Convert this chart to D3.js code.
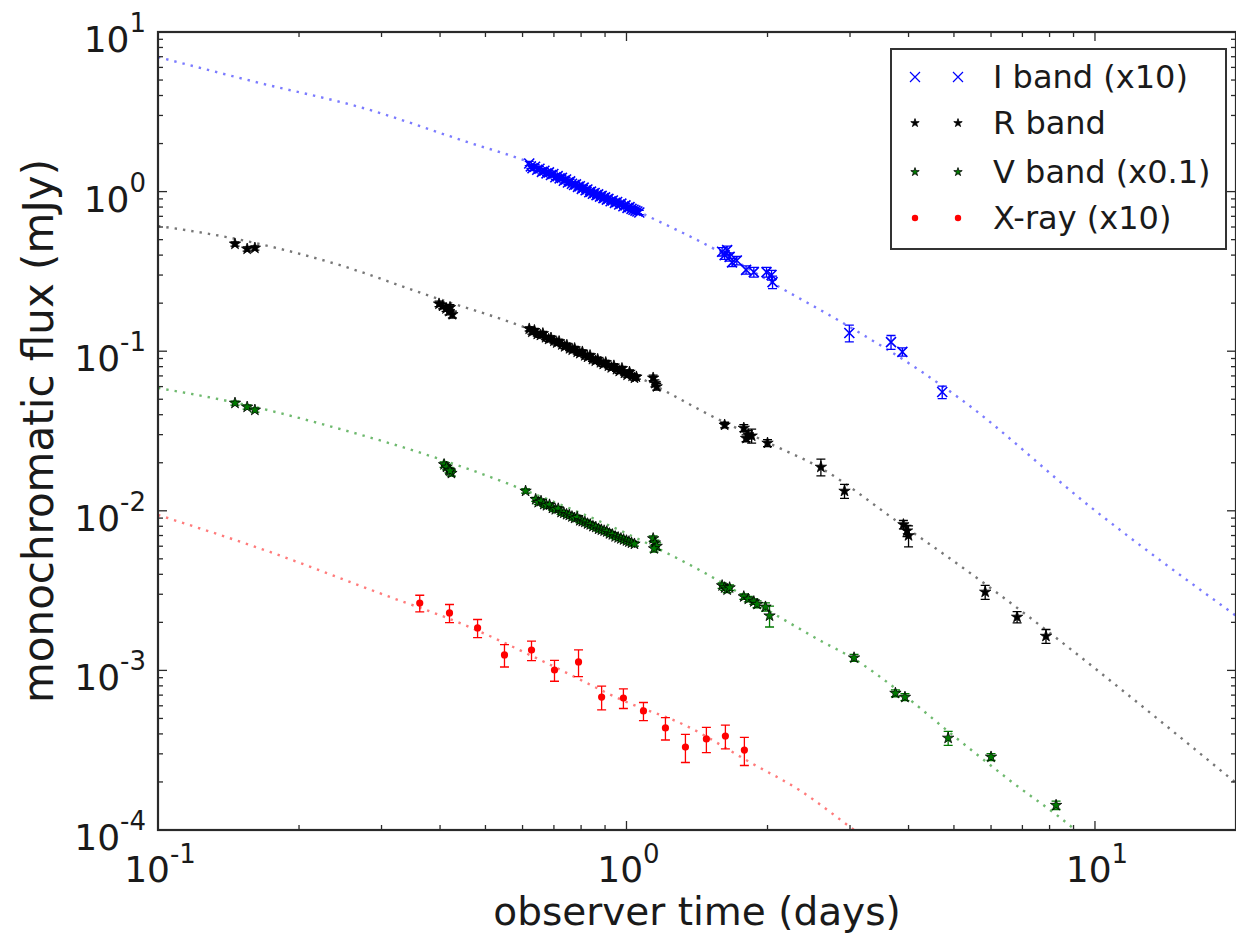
<!DOCTYPE html>
<html><head><meta charset="utf-8">
<script src="https://cdn.jsdelivr.net/npm/d3@7"></script>
<style>body{margin:0;background:#fff}svg{display:block}text{font-family:"DejaVu Sans",sans-serif;fill:#1a1a1a}</style>
</head><body><svg id="c" width="1236" height="939"></svg>
<script>
// ---- data: [time (days), flux (mJy), relative error] ----
const iBand = [
[0.620,1.50,0.03],[0.625,1.44,0.03],[0.630,1.40,0.03],[0.638,1.43,0.03],[0.645,1.37,0.03],[0.652,1.39,0.03],[0.660,1.33,0.03],[0.668,1.35,0.03],[0.675,1.30,0.03],[0.683,1.32,0.03],[0.690,1.27,0.03],[0.698,1.29,0.03],[0.705,1.23,0.03],[0.713,1.25,0.03],[0.720,1.21,0.03],[0.728,1.22,0.03],[0.735,1.17,0.03],[0.743,1.19,0.03],[0.750,1.14,0.03],[0.758,1.16,0.03],[0.765,1.12,0.03],[0.773,1.10,0.03],[0.780,1.11,0.03],[0.788,1.07,0.03],[0.795,1.08,0.03],[0.803,1.04,0.03],[0.810,1.06,0.03],[0.818,1.02,0.03],[0.825,1.03,0.03],[0.833,0.99,0.03],[0.840,1.00,0.03],[0.848,0.97,0.03],[0.855,0.98,0.03],[0.863,0.95,0.03],[0.870,0.96,0.03],[0.878,0.93,0.03],[0.885,0.94,0.03],[0.893,0.91,0.03],[0.900,0.92,0.03],[0.908,0.89,0.03],[0.915,0.90,0.03],[0.925,0.87,0.03],[0.935,0.88,0.03],[0.945,0.85,0.03],[0.955,0.86,0.03],[0.965,0.83,0.03],[0.975,0.84,0.03],[0.985,0.81,0.03],[0.995,0.82,0.03],[1.005,0.79,0.03],[1.015,0.80,0.03],[1.025,0.78,0.03],[1.035,0.77,0.03],[1.045,0.76,0.03],[1.055,0.75,0.03],[1.065,0.74,0.03],
[1.60,0.42,0.06],[1.62,0.40,0.06],[1.64,0.43,0.06],[1.66,0.39,0.06],[1.68,0.36,0.06],[1.72,0.37,0.06],[1.80,0.323,0.06],[1.87,0.313,0.07],[1.99,0.313,0.07],[2.04,0.30,0.07],[2.05,0.271,0.09],
[2.99,0.130,0.12],[3.67,0.114,0.10],[3.88,0.099,0.06],[4.72,0.0555,0.09]
];
const rBand = [
[0.146,0.470,0.03],[0.155,0.437,0.03],[0.161,0.443,0.03],
[0.398,0.198,0.04],[0.405,0.192,0.04],[0.412,0.185,0.04],[0.418,0.178,0.05],[0.425,0.170,0.05],[0.420,0.188,0.04],
[0.620,0.138,0.03],[0.628,0.132,0.03],[0.636,0.135,0.03],[0.645,0.128,0.03],[0.655,0.126,0.03],[0.663,0.129,0.03],[0.672,0.122,0.03],[0.682,0.119,0.03],[0.690,0.121,0.03],[0.700,0.116,0.03],[0.710,0.113,0.03],[0.718,0.115,0.03],[0.728,0.110,0.03],[0.738,0.107,0.03],[0.746,0.109,0.03],[0.756,0.104,0.03],[0.766,0.102,0.03],[0.775,0.104,0.03],[0.785,0.099,0.03],[0.795,0.097,0.03],[0.805,0.099,0.03],[0.815,0.094,0.03],[0.826,0.092,0.03],[0.836,0.094,0.03],[0.846,0.089,0.03],[0.858,0.087,0.03],[0.868,0.089,0.03],[0.880,0.085,0.03],[0.892,0.083,0.03],[0.903,0.085,0.03],[0.915,0.081,0.03],[0.928,0.079,0.03],[0.940,0.081,0.03],[0.952,0.077,0.03],[0.965,0.075,0.03],[0.978,0.078,0.03],[0.990,0.073,0.03],[1.003,0.071,0.03],[1.015,0.074,0.03],[1.028,0.070,0.03],[1.040,0.068,0.03],[1.050,0.069,0.03],
[1.14,0.068,0.04],[1.15,0.063,0.05],[1.16,0.060,0.05],
[1.62,0.0345,0.04],[1.78,0.033,0.05],[1.80,0.0285,0.05],[1.82,0.030,0.06],[1.85,0.0295,0.10],[2.00,0.0266,0.05],
[2.60,0.0188,0.12],[2.92,0.0133,0.10],[3.90,0.0082,0.06],[3.97,0.0075,0.08],[4.00,0.0070,0.15],[5.83,0.0031,0.10],[6.82,0.00216,0.08],[7.86,0.00164,0.10]
];
const vBand = [
[0.146,0.0473,0.03],[0.155,0.0447,0.03],[0.161,0.0428,0.03],
[0.408,0.0195,0.04],[0.413,0.0188,0.04],[0.418,0.0180,0.04],[0.423,0.0172,0.04],[0.420,0.0178,0.04],
[0.609,0.0133,0.03],
[0.640,0.0118,0.03],[0.648,0.0113,0.03],[0.657,0.0115,0.03],[0.666,0.0110,0.03],[0.675,0.0108,0.03],[0.685,0.0109,0.03],[0.695,0.0104,0.03],[0.705,0.0102,0.03],[0.715,0.0103,0.03],[0.725,0.0098,0.03],[0.735,0.0097,0.03],[0.745,0.0095,0.03],[0.755,0.0094,0.03],[0.765,0.0092,0.03],[0.775,0.0090,0.03],[0.785,0.0091,0.03],[0.795,0.0087,0.03],[0.805,0.0086,0.03],[0.815,0.0085,0.03],[0.826,0.0083,0.03],[0.837,0.0082,0.03],[0.848,0.0080,0.03],[0.860,0.0079,0.03],[0.872,0.0077,0.03],[0.884,0.0076,0.03],[0.896,0.0075,0.03],[0.908,0.0074,0.03],[0.920,0.0072,0.03],[0.933,0.0071,0.03],[0.946,0.0069,0.03],[0.960,0.0068,0.03],[0.973,0.0067,0.03],[0.986,0.0066,0.03],[1.000,0.0065,0.03],[1.012,0.0064,0.03],[1.025,0.0063,0.03],[1.040,0.0062,0.03],
[1.14,0.0067,0.04],[1.15,0.0063,0.04],[1.16,0.0060,0.05],[1.145,0.0058,0.05],
[1.60,0.0034,0.04],[1.62,0.0033,0.04],[1.64,0.0032,0.04],[1.66,0.0033,0.04],[1.78,0.0029,0.04],[1.82,0.0028,0.04],[1.87,0.0027,0.04],[1.90,0.0026,0.05],[1.98,0.0025,0.06],[2.02,0.0022,0.15],
[3.06,0.0012,0.05],[3.75,0.00072,0.05],[3.93,0.00068,0.05],[4.86,0.000377,0.10],[6.0,0.000287,0.05],[8.26,0.000143,0.06]
];
const xRay = [
[0.362,0.00264,0.12],[0.419,0.00229,0.13],[0.481,0.001845,0.13],[0.549,0.00125,0.16],[0.627,0.00134,0.14],[0.702,0.001006,0.15],[0.790,0.00113,0.19],[0.885,0.000681,0.17],[0.985,0.000671,0.14],[1.087,0.000557,0.13],[1.211,0.000436,0.16],[1.336,0.000331,0.20],[1.481,0.000372,0.18],[1.626,0.000388,0.17],[1.785,0.000317,0.20]
];
// ---- model curves: [time, flux] ----
const iModel = [[0.1,6.97],[0.165,4.79],[0.274,3.34],[0.456,2.05],[0.621,1.53],[1.076,0.734],[1.556,0.43],[2.12,0.2525],[2.846,0.155],[4.277,0.074],[5.13,0.0509],[9.85,0.0104],[20,0.0022]];
const rModel = [[0.1,0.609],[0.140,0.519],[0.236,0.357],[0.386,0.2186],[0.612,0.1397],[1.06,0.0689],[1.579,0.0371],[2.0,0.0268],[2.6,0.0185],[3.82,0.0084],[5.13,0.00457],[20,0.000197]];
const vModel = [[0.1,0.0588],[0.144,0.0481],[0.236,0.0335],[0.405,0.0208],[0.609,0.0134],[1.066,0.0066],[1.431,0.00426],[2.12,0.00216],[2.579,0.00155],[3.06,0.00118],[3.82,0.00074],[4.884,0.00041],[6.56,0.000206],[9.07,0.0001],[10.1,0.000075]];
const xModel = [[0.1,0.00942],[0.1734,0.00552],[0.297,0.00305],[0.4516,0.001925],[0.675,0.001113],[1.0,0.000634],[1.33,0.000455],[1.829,0.000267],[2.338,0.000178],[3.063,0.0001],[3.82,0.000063]];
// ---- ticks / labels ----
const xMajor = [0.1, 1, 10];
const yMajor = [1e-4, 1e-3, 1e-2, 1e-1, 1, 10];
const xLabel = "observer time (days)";
const yLabel = "monochromatic flux (mJy)";
const legendNames = ["I band (x10)", "R band", "V band (x0.1)", "X-ray (x10)"];

const svg = d3.select("#c");
const L = 158, R = 1236, T = 32, B = 830;
const x = d3.scaleLog().domain([0.1, 20]).range([L, R]);
const y = d3.scaleLog().domain([1e-4, 10]).range([B, T]);

svg.append("defs").append("clipPath").attr("id","clip").append("rect")
  .attr("x",L).attr("y",T).attr("width",R-L).attr("height",B-T);

const plot = svg.append("g").attr("clip-path","url(#clip)");
const line = d3.line().x(d=>x(d[0])).y(d=>y(d[1])).curve(d3.curveMonotoneX);

const series = [
  {data:iBand, model:iModel, color:"#0000ff", line:"#5a5aff", marker:"x"},
  {data:rBand, model:rModel, color:"#000000", line:"#555555", marker:"starK"},
  {data:vBand, model:vModel, color:"#007a00", line:"#4aa84a", marker:"starG"},
  {data:xRay,  model:xModel, color:"#ff0000", line:"#ff5a5a", marker:"dot"}
];

series.forEach(s=>{
  plot.append("path").attr("d", line(s.model)).attr("fill","none")
    .attr("stroke", s.line).attr("stroke-width",2.4).attr("stroke-opacity",0.8)
    .attr("stroke-dasharray","2.4 6");
});

const star = d3.symbol().type(d3.symbolStar);
function drawMarker(g, type, cx, cy, color, sz, sw){
  if(type==="x"){
    const h = sz||5;
    g.append("path").attr("d",`M${cx-h},${cy-h}L${cx+h},${cy+h}M${cx-h},${cy+h}L${cx+h},${cy-h}`)
      .attr("stroke",color).attr("stroke-width",sw||1.6).attr("fill","none");
  } else if(type==="starK"){
    g.append("path").attr("d",star.size(sz||40)()).attr("transform",`translate(${cx},${cy})`)
      .attr("fill","#000").attr("stroke","#000").attr("stroke-width",0.8);
  } else if(type==="starG"){
    g.append("path").attr("d",star.size(sz||40)()).attr("transform",`translate(${cx},${cy})`)
      .attr("fill",color).attr("stroke","#000").attr("stroke-width",0.8);
  } else {
    g.append("circle").attr("cx",cx).attr("cy",cy).attr("r",sz||3.6).attr("fill",color);
  }
}

series.forEach(s=>{
  const g = plot.append("g");
  s.data.forEach(d=>{
    const cx = x(d[0]);
    const y1 = y(d[1]*(1-d[2])), y2 = y(d[1]*(1+d[2]));
    g.append("path").attr("d",`M${cx},${y1}L${cx},${y2}M${cx-4.5},${y1}L${cx+4.5},${y1}M${cx-4.5},${y2}L${cx+4.5},${y2}`)
      .attr("stroke",s.color).attr("stroke-width",1.3).attr("fill","none");
  });
  s.data.forEach(d=>drawMarker(g, s.marker, x(d[0]), y(d[1]), s.color));
});

// frame
const axisColor = "#2a2a2a";
svg.append("rect").attr("x",L).attr("y",T).attr("width",R-L).attr("height",B-T)
  .attr("fill","none").attr("stroke",axisColor).attr("stroke-width",2.2);

// ticks
const xMinor = [], yMinor = [];
[0.1,1,10].forEach(d=>{ for(let k=2;k<=9;k++){ const v=d*k; if(v<20) xMinor.push(v);} });
[1e-4,1e-3,1e-2,1e-1,1].forEach(d=>{ for(let k=2;k<=9;k++) yMinor.push(d*k); });
const tk = svg.append("g").attr("stroke",axisColor).attr("stroke-width",1.3);
function xt(v,len){ const px=x(v); tk.append("line").attr("x1",px).attr("x2",px).attr("y1",B).attr("y2",B-len);
  tk.append("line").attr("x1",px).attr("x2",px).attr("y1",T).attr("y2",T+len); }
function yt(v,len){ const py=y(v); tk.append("line").attr("x1",L).attr("x2",L+len).attr("y1",py).attr("y2",py);
  tk.append("line").attr("x1",R).attr("x2",R-len).attr("y1",py).attr("y2",py); }
xMajor.forEach(v=>xt(v,9)); xMinor.forEach(v=>xt(v,5));
yMajor.forEach(v=>yt(v,9)); yMinor.forEach(v=>yt(v,5));

function expOf(v){ const e=Math.round(Math.log10(v)); return e<0 ? "-"+(-e) : ""+e; }
xMajor.forEach(v=>{
  const t = svg.append("text").attr("x",x(v)+2).attr("y",882).attr("text-anchor","middle").attr("font-size",36);
  t.append("tspan").text("10");
  t.append("tspan").attr("dy",-19).attr("font-size",26).text(expOf(v));
});
yMajor.forEach(v=>{
  const t = svg.append("text").attr("x",146).attr("y",y(v)+20).attr("text-anchor","end").attr("font-size",36);
  t.append("tspan").text("10");
  t.append("tspan").attr("dy",-20).attr("font-size",26).text(expOf(v));
});

svg.append("text").attr("x",(L+R)/2).attr("y",925).attr("text-anchor","middle").attr("font-size",39).text(xLabel);
svg.append("text").attr("transform",`translate(53,${(T+B)/2}) rotate(-90)`).attr("text-anchor","middle").attr("font-size",42).text(yLabel);

// legend
const lg = svg.append("g");
lg.append("rect").attr("x",891).attr("y",49).attr("width",335).attr("height",200)
  .attr("fill","#fff").attr("stroke","#333").attr("stroke-width",2);
const rows = [77,123,172,218];
series.forEach((s,i)=>{
  [915,958].forEach(mx=>drawMarker(lg, s.marker, mx, rows[i], s.color,
    s.marker==="x"?5:(s.marker==="dot"?3.2:22), s.marker==="x"?1.2:null));
  lg.append("text").attr("x",993).attr("y",rows[i]+11).attr("font-size",32).text(legendNames[i]);
});
</script></body></html>
